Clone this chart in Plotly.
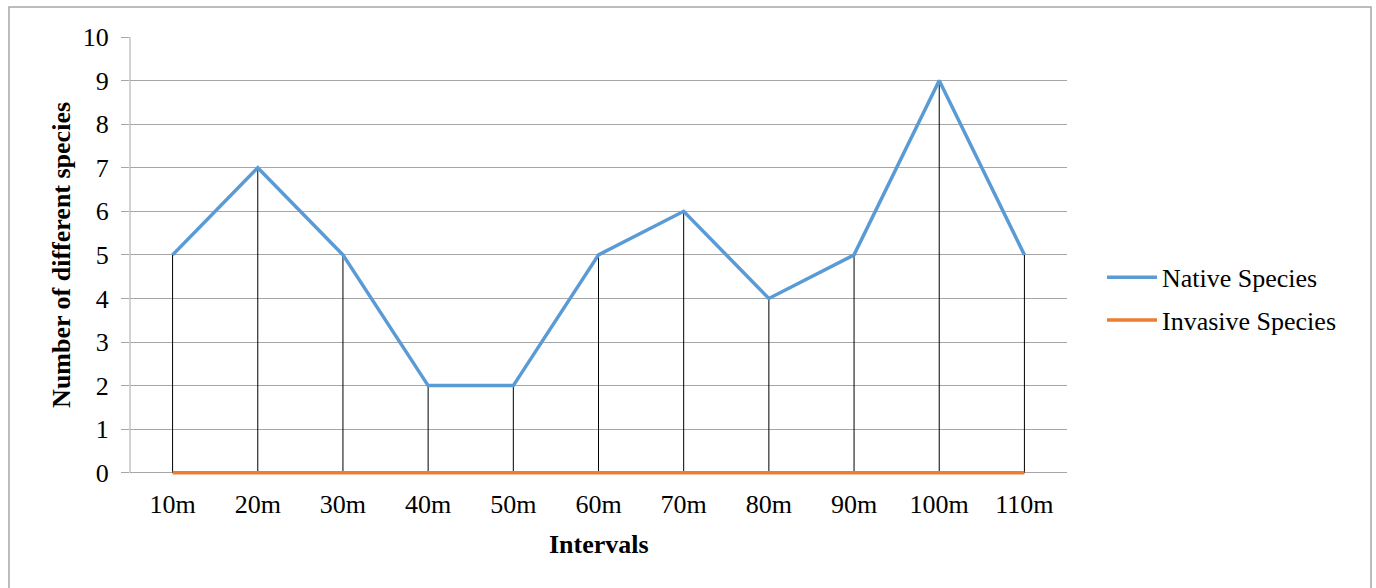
import plotly.graph_objects as go

intervals = ["10m", "20m", "30m", "40m", "50m", "60m", "70m", "80m", "90m", "100m", "110m"]
native = [5, 7, 5, 2, 2, 5, 6, 4, 5, 9, 5]
invasive = [0, 0, 0, 0, 0, 0, 0, 0, 0, 0, 0]
y_ticks = list(range(0, 11))

W, H = 1376, 588
L, R, T, B = 130, 1067, 37, 473
YMIN, YMAX = -0.12, 10
unit = (B - T) / 10.0
B2 = B - YMIN * unit  # extend plot bottom a bit so orange line at 0 isn't clipped
PW, PH = R - L, B2 - T

FONT = "Liberation Serif, Times New Roman, serif"
FS = 26

# drop lines from each native point down to the axis
drop_x, drop_y = [], []
for cat, v, base in zip(intervals, native, invasive):
    drop_x += [cat, cat, None]
    drop_y += [base, v, None]

fig = go.Figure()
fig.add_trace(go.Scatter(x=drop_x, y=drop_y, mode="lines",
                         line=dict(color="black", width=1),
                         showlegend=False, hoverinfo="skip"))
fig.add_trace(go.Scatter(x=intervals, y=native, mode="lines", name="Native Species",
                         legendgroup="a", line=dict(color="#5B9BD5", width=3.5)))
fig.add_trace(go.Scatter(x=intervals, y=invasive, mode="lines", name="Invasive Species",
                         legendgroup="b", line=dict(color="#ED7D31", width=3.5)))

def px_x(p):
    return (p - L) / PW

def px_y(p):
    return (B2 - p) / PH

fig.update_layout(
    width=W, height=H,
    margin=dict(l=L, r=W - R, t=T, b=H - B2),
    paper_bgcolor="white", plot_bgcolor="white",
    font=dict(family=FONT, size=FS, color="black"),
    showlegend=True,
    legend=dict(x=px_x(1102), y=px_y(299), xanchor="left", yanchor="middle",
                font=dict(family=FONT, size=FS, color="black"),
                bgcolor="rgba(0,0,0,0)", tracegroupgap=6, itemwidth=50),
    xaxis=dict(type="category", categoryorder="array", categoryarray=intervals,
               range=[-0.5, len(intervals) - 0.5],
               showgrid=False, showline=False, zeroline=False,
               ticks="", tickfont=dict(family=FONT, size=FS), ticklabelstandoff=8),
    yaxis=dict(range=[YMIN, YMAX], tickvals=y_ticks, showgrid=True, gridcolor="#A6A6A6", gridwidth=1,
               showline=False, zeroline=False,
               ticks="outside", ticklen=8, tickcolor="#A6A6A6",
               tickfont=dict(family=FONT, size=FS), ticklabelstandoff=7),
    annotations=[
        dict(text="<b>Intervals</b>", xref="paper", yref="paper", x=px_x(599), y=px_y(545),
             xanchor="center", yanchor="middle", showarrow=False, font=dict(family=FONT, size=FS)),
        dict(text="<b>Number of different species</b>", xref="paper", yref="paper",
             x=px_x(62), y=px_y(255), textangle=-90,
             xanchor="center", yanchor="middle", showarrow=False, font=dict(family=FONT, size=FS)),
    ],
    shapes=[
        dict(type="rect", xref="paper", yref="paper",
             x0=px_x(9), x1=px_x(1371), y0=px_y(600), y1=px_y(7),
             line=dict(color="#A6A6A6", width=1.5), fillcolor="rgba(0,0,0,0)", layer="below"),
        dict(type="line", xref="paper", yref="y", x0=0, x1=0, y0=0, y1=10,
             line=dict(color="#A6A6A6", width=1), layer="below"),
    ],
)

fig.write_html("out.html", config={"displayModeBar": False},
               post_script="document.body.style.margin='0px';")
